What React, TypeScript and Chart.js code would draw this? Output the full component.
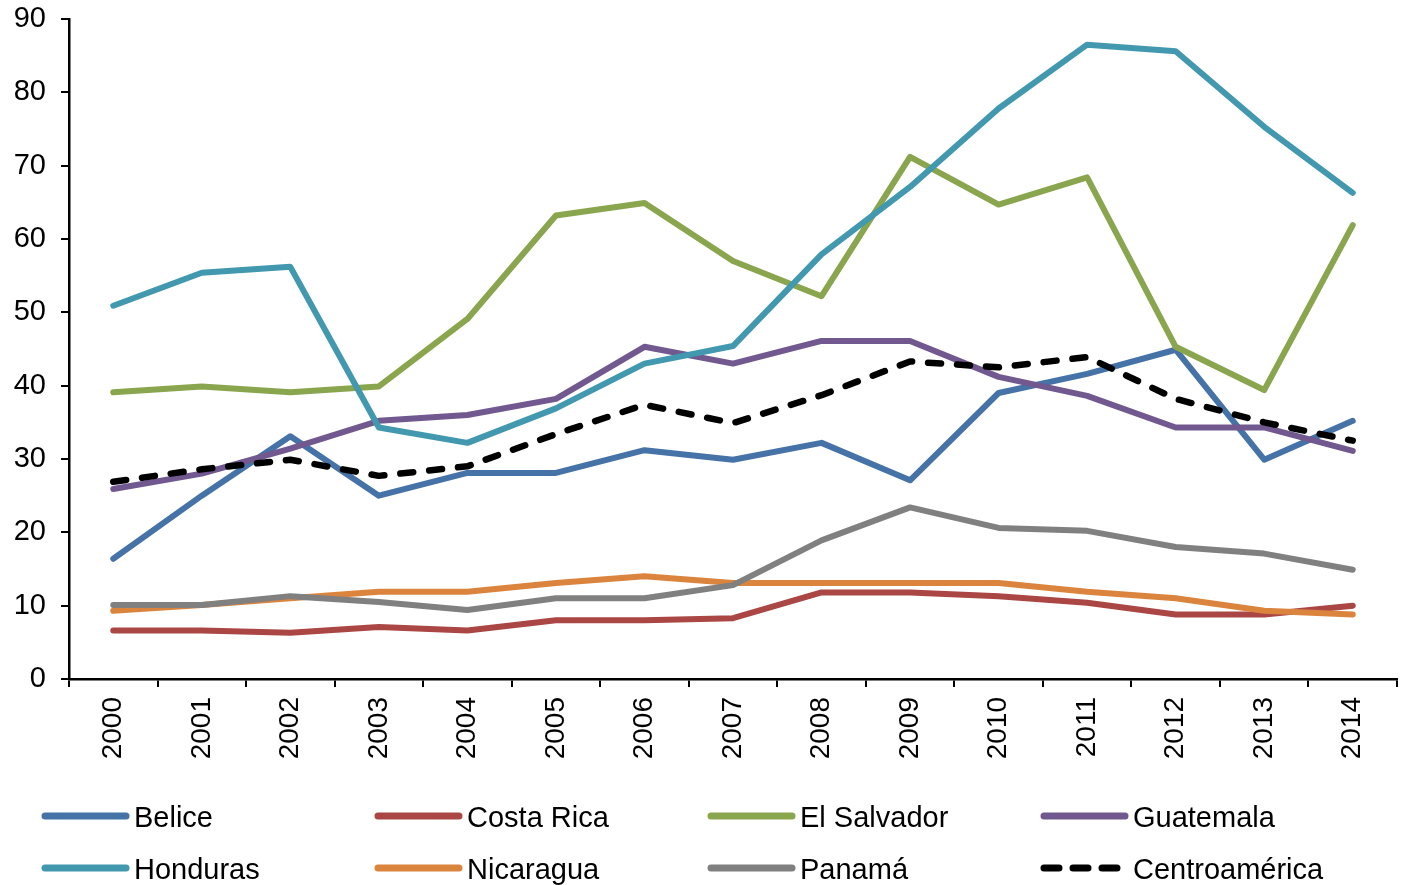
import React, { useEffect, useRef } from "react";
import { Chart, registerables } from "chart.js";

Chart.register(...registerables);

const years = ["2000","2001","2002","2003","2004","2005","2006","2007","2008","2009","2010","2011","2012","2013","2014"];

const belice = [16.4, 25, 33.1, 25, 28.1, 28.1, 31.2, 29.9, 32.2, 27.1, 39, 41.6, 44.9, 29.9, 35.2];
const costaRica = [6.6, 6.6, 6.3, 7.1, 6.6, 8, 8, 8.3, 11.8, 11.8, 11.3, 10.4, 8.8, 8.8, 10];
const elSalvador = [39.1, 39.9, 39.1, 39.9, 49.1, 63.2, 64.9, 57, 52.2, 71.2, 64.7, 68.4, 45.3, 39.4, 61.9];
const guatemala = [25.9, 28, 31.4, 35.2, 36, 38.2, 45.3, 43, 46.1, 46.1, 41.2, 38.6, 34.3, 34.3, 31.1];
const honduras = [50.9, 55.4, 56.2, 34.3, 32.2, 36.9, 43, 45.4, 57.9, 67.1, 77.8, 86.5, 85.6, 75.3, 66.3];
const nicaragua = [9.3, 10.1, 11, 11.9, 11.9, 13.1, 14, 13.1, 13.1, 13.1, 13.1, 11.9, 11, 9.3, 8.8];
const panama = [10.1, 10.1, 11.3, 10.5, 9.4, 11, 11, 12.8, 18.9, 23.4, 20.6, 20.2, 18, 17.1, 14.9];
const centroamerica = [26.9, 28.6, 29.9, 27.7, 29, 33.4, 37.4, 34.9, 38.7, 43.3, 42.5, 43.9, 38.2, 35, 32.5];

const seriesNames = ["Belice", "Costa Rica", "El Salvador", "Guatemala", "Honduras", "Nicaragua", "Panamá", "Centroamérica"];
const seriesColors = ["#4572A7", "#AA4643", "#89A54E", "#71588F", "#4198AF", "#DB843D", "#808080", "#000000"];
const seriesData = [belice, costaRica, elSalvador, guatemala, honduras, nicaragua, panama, centroamerica];

const FONT = "'Liberation Sans', Arial, sans-serif";

const legendPlugin = {
  id: "gridLegend",
  afterDraw(chart: any) {
    const ctx = chart.ctx;
    const colX = [42, 375, 708, 1041];
    const rowY = [816, 868];
    ctx.save();
    chart.data.datasets.forEach((ds: any, i: number) => {
      const x0 = colX[i % 4];
      const y = rowY[Math.floor(i / 4)];
      ctx.strokeStyle = ds.borderColor;
      ctx.lineCap = "round";
      if (ds.borderDash && ds.borderDash.length) {
        ctx.lineWidth = 7;
        ctx.setLineDash([15, 14]);
        ctx.beginPath();
        ctx.moveTo(x0 + 3, y);
        ctx.lineTo(x0 + 80, y);
        ctx.stroke();
      } else {
        ctx.lineWidth = 7;
        ctx.setLineDash([]);
        ctx.beginPath();
        ctx.moveTo(x0 + 3, y);
        ctx.lineTo(x0 + 84, y);
        ctx.stroke();
      }
      ctx.setLineDash([]);
      ctx.fillStyle = "#000";
      ctx.font = `29px ${FONT}`;
      ctx.textBaseline = "middle";
      ctx.textAlign = "left";
      ctx.fillText(ds.label, x0 + 92, y + 3);
    });
    ctx.restore();
  },
};

export default function App() {
  const ref = useRef<HTMLCanvasElement | null>(null);

  useEffect(() => {
    if (!ref.current) return;
    const n = seriesNames.length;
    const chart = new Chart(ref.current, {
      type: "line",
      data: {
        labels: years,
        datasets: seriesNames.map((name, i) => ({
          label: name,
          data: seriesData[i],
          borderColor: seriesColors[i],
          backgroundColor: seriesColors[i],
          borderWidth: i === n - 1 ? 6.5 : 6,
          borderDash: i === n - 1 ? [13, 16] : [],
          borderCapStyle: "round" as const,
          borderJoinStyle: "round" as const,
          pointRadius: 0,
          pointHoverRadius: 0,
          tension: 0,
          fill: false,
          order: n - i,
        })),
      },
      options: {
        responsive: false,
        animation: false,
        events: [],
        layout: { padding: { top: 19, right: 6, left: 0, bottom: 0 } },
        plugins: {
          legend: { display: false },
          tooltip: { enabled: false },
          title: { display: false },
        },
        scales: {
          x: {
            type: "category",
            offset: true,
            grid: {
              offset: true,
              drawOnChartArea: false,
              drawTicks: true,
              tickLength: 8,
              color: "#000",
              lineWidth: 2,
            },
            border: { display: true, color: "#000", width: 2.5 },
            ticks: {
              color: "#000",
              font: { family: FONT, size: 28 },
              minRotation: 90,
              maxRotation: 90,
              padding: 10,
              autoSkip: false,
            },
            afterFit: (s: any) => {
              s.height = 206;
              s.paddingLeft = 0;
              s.paddingRight = 0;
            },
          },
          y: {
            min: 0,
            max: 90,
            grid: {
              drawOnChartArea: false,
              drawTicks: true,
              tickLength: 8,
              color: "#000",
              lineWidth: 2,
            },
            border: { display: true, color: "#000", width: 2.5 },
            ticks: {
              stepSize: 10,
              color: "#000",
              font: { family: FONT, size: 29 },
              padding: 15,
            },
            afterFit: (s: any) => {
              s.width = 69;
              s.paddingTop = 0;
              s.paddingBottom = 0;
            },
          },
        },
      },
      plugins: [legendPlugin],
    });
    return () => chart.destroy();
  }, []);

  return (
    <div style={{ position: "fixed", left: 0, top: 0, width: 1403, height: 885, background: "#fff" }}>
      <canvas ref={ref} width={1403} height={885} style={{ display: "block", width: 1403, height: 885 }} />
    </div>
  );
}
